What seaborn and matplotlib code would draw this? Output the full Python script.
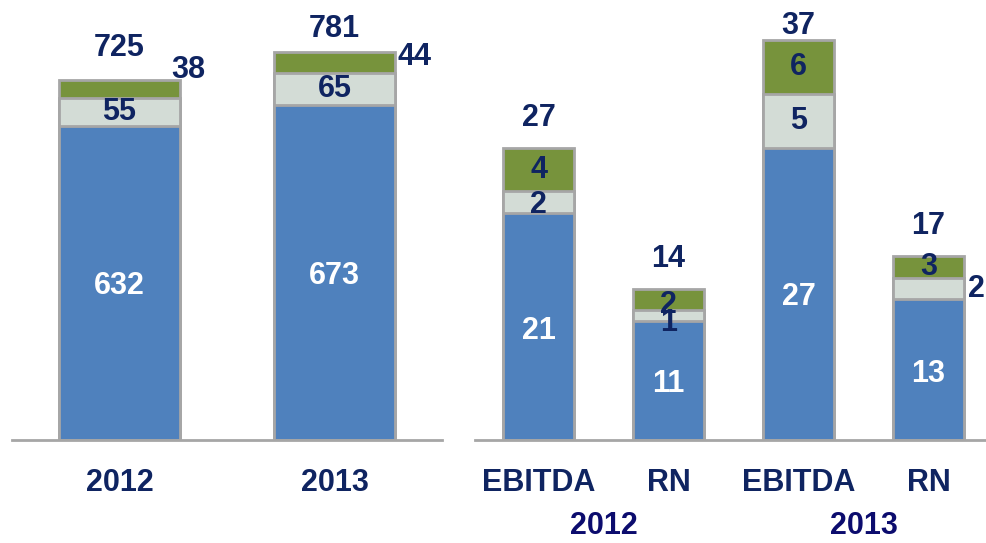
import matplotlib
matplotlib.use("Agg")
import matplotlib.pyplot as plt
import matplotlib.transforms as mtransforms
import seaborn as sns
import pandas as pd

# ---------------- data ----------------
years = ["2012", "2013"]
rev_base = [632, 673]
rev_mid = [55, 65]
rev_top = [38, 44]
rev_total = [725, 781]

metric_keys = ["EBITDA 2012", "RN 2012", "EBITDA 2013", "RN 2013"]
metric_ticks = ["EBITDA", "RN", "EBITDA", "RN"]
metric_groups = ["2012", "2013"]
met_base = [21, 11, 27, 13]
met_mid = [2, 1, 5, 2]
met_top = [4, 2, 6, 3]
met_total = [27, 14, 37, 17]

# ---------------- style ----------------
sns.set_theme(style="white")
plt.rcParams["font.family"] = ["Liberation Sans", "DejaVu Sans"]

BLUE = "#4F81BD"
GRAY = "#D3DCD6"
GREEN = "#77933C"
EDGE = "#A6A6A6"
NAVY = "#0F2461"
NAVY2 = "#0C0C6E"
FS = 22

W, H = 987, 543
fig = plt.figure(figsize=(W / 100, H / 100), dpi=100)
axL = fig.add_axes([12 / W, 103 / H, 430 / W, 440 / H])
axR = fig.add_axes([475 / W, 103 / H, 512 / W, 440 / H])


def stacked(ax, cats, base, mid, total, width):
    df = pd.DataFrame({
        "cat": cats,
        "total": total,
        "mid": [b + m for b, m in zip(base, mid)],
        "base": base,
    })
    for col, color in [("total", GREEN), ("mid", GRAY), ("base", BLUE)]:
        sns.barplot(data=df, x="cat", y=col, order=cats, color=color,
                    saturation=1, width=width, edgecolor=EDGE, linewidth=2,
                    errorbar=None, ax=ax)


def style_axis(ax, ticklabels):
    ax.set_xlabel("")
    ax.set_ylabel("")
    ax.set_yticks([])
    ax.set_xticks(range(len(ticklabels)))
    ax.set_xticklabels(ticklabels, fontsize=FS, fontweight="bold", color=NAVY)
    ax.tick_params(axis="x", length=0, pad=20)
    for s in ["top", "left", "right"]:
        ax.spines[s].set_visible(False)
    ax.spines["bottom"].set_color(EDGE)
    ax.spines["bottom"].set_linewidth(2)
    ax.set_facecolor("none")


def label(ax, text, x, y, color, dx=0, dy=0, ha="center"):
    ax.annotate(text, xy=(x, y), xytext=(dx, dy), textcoords="offset pixels",
                ha=ha, va="center", fontsize=FS, fontweight="bold",
                color=color, annotation_clip=False)


# ---------------- left panel ----------------
wL = 0.56
stacked(axL, years, rev_base, rev_mid, rev_total, wL)
axL.set_xlim(-0.5, 1.5)
axL.set_ylim(0, 885)
style_axis(axL, years)

top_dx = [-8, 3]
top_dy = [10, -5]
total_dy = [32, 23]
base_dy = [-3, -3]
for i in range(len(years)):
    b, m, t, tot = rev_base[i], rev_mid[i], rev_top[i], rev_total[i]
    label(axL, str(b), i, b / 2, "white", dy=base_dy[i])
    label(axL, str(m), i, b + m / 2, NAVY)
    label(axL, str(t), i + wL / 2, tot, NAVY, dx=top_dx[i], dy=top_dy[i], ha="left")
    label(axL, str(tot), i, tot, NAVY, dy=total_dy[i])

# ---------------- right panel ----------------
wR = 0.55
stacked(axR, metric_keys, met_base, met_mid, met_total, wR)
axR.set_xlim(-0.49, 3.45)
axR.set_ylim(0, 40.7)
style_axis(axR, metric_ticks)

mid_place = ["in", "in", "in", "right"]
mid_dy = [-3, -7, 0, 0]
top_dy_r = [0, -6, 0, 0]
total_dy_r = [30, 30, 14, 30]
base_dy_r = [-5, -3, -3, -4]
for i in range(len(metric_keys)):
    b, m, t, tot = met_base[i], met_mid[i], met_top[i], met_total[i]
    label(axR, str(b), i, b / 2, "white", dy=base_dy_r[i])
    if mid_place[i] == "in":
        label(axR, str(m), i, b + m / 2, NAVY, dy=mid_dy[i])
    else:
        label(axR, str(m), i + wR / 2, b + m / 2, NAVY, dx=4, dy=mid_dy[i], ha="left")
    label(axR, str(t), i, b + m + t / 2 - (b + m + t - tot) / 2, NAVY, dy=top_dy_r[i])
    label(axR, str(tot), i, tot, NAVY, dy=total_dy_r[i])

# group labels under the right panel
trans = mtransforms.blended_transform_factory(axR.transData, axR.transAxes)
for g, grp in enumerate(metric_groups):
    axR.text(2 * g + 0.5, -0.196, grp, transform=trans, ha="center", va="center",
             fontsize=FS, fontweight="bold", color=NAVY2)

fig.savefig("out.png", dpi=100)
